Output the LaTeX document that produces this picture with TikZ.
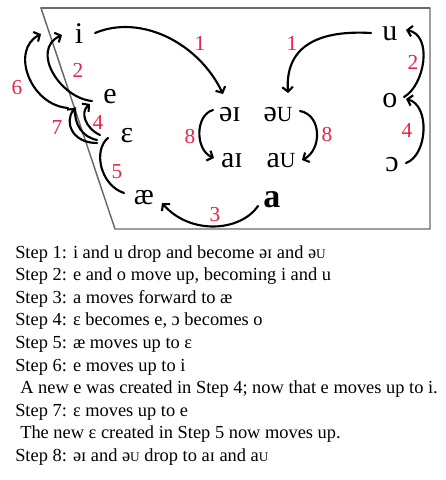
\documentclass[tikz,border=0pt]{standalone}
\usepackage{fontspec}
\usepackage{graphicx}
\setmainfont{Liberation Serif}
\usetikzlibrary{arrows.meta}
\definecolor{numred}{RGB}{232,36,72}
\definecolor{framegray}{RGB}{105,105,105}
\newcommand{\scU}{\scalebox{0.72}{U}}
\tikzset{
  ipa/.style={font=\fontsize{22.5pt}{27pt}\selectfont, inner sep=0pt, anchor=base},
  ipabig/.style={font=\fontsize{25.5pt}{30pt}\selectfont\bfseries, inner sep=0pt, anchor=base},
  num/.style={text=numred, font=\fontsize{16pt}{19pt}\selectfont, inner sep=0pt},
  caption/.style={font=\fontsize{13.8pt}{17pt}\selectfont, inner sep=0pt, anchor=base west},
  conn/.style={line width=1.6pt, line cap=round},
  arr/.style={conn, -{Straight Barb[length=3.5pt,width=8pt]}},
  frame/.style={draw=framegray, line width=1.1pt}
}
\begin{document}
\begin{tikzpicture}[x=0.75pt,y=-0.75pt]
\useasboundingbox[fill=white] (0,0) rectangle (446,480);
% frame
\draw[frame] (41,8) -- (430,8) -- (430,229) -- (115,229) -- cycle;
\draw[draw=framegray, line width=2pt] (41,8) -- (430,8);
% vowels
\node[ipa] (i) at (79,43) {i};
\node[ipa] (e) at (110,103) {e};
\node[ipa] (E) at (127,142) {ɛ};
\node[ipa] (ae) at (144,204) {æ};
\node[ipabig] (a) at (272,207) {a};
\node[ipa] (u) at (390,40) {u};
\node[ipa] (o) at (390,107) {o};
\node[ipa] (O) at (392,171) {ɔ};
\node[ipa] (eI) at (230,121) {əɪ};
\node[ipa] (aI) at (232,167) {aɪ};
\node[ipa] (eU) at (278,121) {ə\scU};
\node[ipa] (aU) at (281,167) {a\scU};
% numbers
\node[num] (n1l) at (200,43) {1};
\node[num] (n1r) at (292,43) {1};
\node[num] (n2l) at (78,70) {2};
\node[num] (n2r) at (413,62) {2};
\node[num] (n6) at (17,88) {6};
\node[num] (n7) at (57,128) {7};
\node[num] (n4l) at (98,122) {4};
\node[num] (n5) at (117,172) {5};
\node[num] (n8l) at (190,137) {8};
\node[num] (n8r) at (327,135) {8};
\node[num] (n4r) at (407,130) {4};
\node[num] (n3) at (215,215) {3};
% connectors
\draw[arr] ([shift={(16,-10)}]i.base) .. controls (140,14) and (198,42) .. ([shift={(-7,-27)}]eI.base);
\draw[arr] ([shift={(-19,-7)}]u.base) .. controls (320,30) and (285,45) .. ([shift={(10,-28)}]eU.base);
\draw[arr] ([shift={(-18,-2)}]e.base) .. controls (60,98) and (30,50) .. ([shift={(-17,-8)}]i.base);
\draw[arr] ([shift={(-42,5)}]e.base) .. controls (30,105) and (10,50) .. ([shift={(-38,-9)}]i.base);
\draw[arr] ([shift={(-30,1)}]E.base) .. controls (72,143) and (64,122) .. ([shift={(-35,5)}]e.base);
\draw[conn] ([shift={(-30,-2)}]E.base) .. controls (82,137) and (74,124) .. ([shift={(-35,5)}]e.base);
\draw[arr] ([shift={(-27,-7)}]E.base) .. controls (85,128) and (80,112) .. ([shift={(-20,1)}]e.base);
\draw[conn] ([shift={(-20,-11)}]ae.base) .. controls (100,185) and (93,150) .. ([shift={(-19,-4)}]E.base);
\draw[arr] ([shift={(-14,-1)}]a.base) .. controls (240,232) and (190,235) .. ([shift={(18,-1)}]ae.base);
\draw[arr] ([shift={(-17,-11)}]eI.base) .. controls (195,115) and (195,150) .. ([shift={(-18,-9)}]aI.base);
\draw[arr] ([shift={(22,-10)}]eU.base) .. controls (322,115) and (322,150) .. ([shift={(21,-7)}]aU.base);
\draw[arr] ([shift={(14,-10)}]o.base) .. controls (425,85) and (433,35) .. ([shift={(16,-10)}]u.base);
\draw[arr] ([shift={(14,-8)}]O.base) .. controls (428,155) and (430,105) .. ([shift={(16,-8)}]o.base);
% caption
\node[caption] (c1) at (15,258) {Step 1: i and u drop and become əɪ and ə\scU};
\node[caption] (c2) at (15,280.6) {Step 2: e and o move up, becoming i and u};
\node[caption] (c3) at (15,303.2) {Step 3: a moves forward to æ};
\node[caption] (c4) at (15,325.8) {Step 4: ɛ becomes e, ɔ becomes o};
\node[caption] (c5) at (15,348.4) {Step 5: æ moves up to ɛ};
\node[caption] (c6) at (15,371) {Step 6: e moves up to i};
\node[caption] (c7) at (20,393.6) {A new e was created in Step 4; now that e moves up to i.};
\node[caption] (c8) at (15,416.2) {Step 7: ɛ moves up to e};
\node[caption] (c9) at (20,438.8) {The new ɛ created in Step 5 now moves up.};
\node[caption] (c10) at (15,461.4) {Step 8: əɪ and ə\scU{} drop to aɪ and a\scU};
\end{tikzpicture}
\end{document}
